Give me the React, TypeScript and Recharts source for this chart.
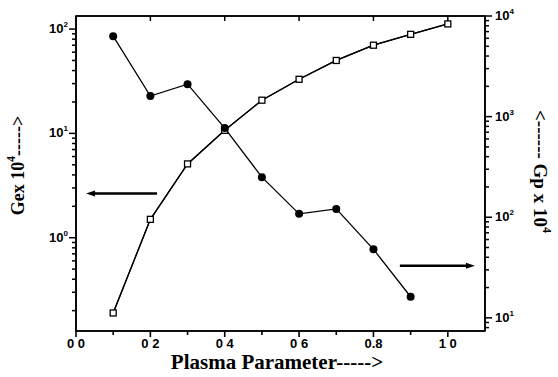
import React from "react";
import {
  ComposedChart, Line, XAxis, YAxis, ReferenceLine, ReferenceArea
} from "recharts";

// plasma parameter
const PARAM = [0.1, 0.2, 0.3, 0.4, 0.5, 0.6, 0.7, 0.8, 0.9, 1.0];
// Gex x 10^4 (open squares, left axis)
const GEX = [0.19, 1.5, 5.1, 10.7, 20.8, 33, 50, 70, 89, 112];
// Gp x 10^4 (filled circles, right axis)
const GP: (number | null)[] = [6300, 1600, 2100, 770, 250, 108, 121, 48, 16.2, null];

const X_TICKS = [0, 0.1, 0.2, 0.3, 0.4, 0.5, 0.6, 0.7, 0.8, 0.9, 1.0];
const X_LABELS: Record<string, string> = {
  "0": "0 0", "0.2": "0 2", "0.4": "0 4", "0.6": "0 6", "0.8": "0.8", "1": "1 0",
};
const LEFT_TICKS = [0.2, 0.3, 0.4, 0.5, 0.6, 0.7, 0.8, 0.9, 1, 2, 3, 4, 5, 6, 7, 8, 9, 10, 20, 30, 40, 50, 60, 70, 80, 90, 100];
const RIGHT_TICKS = [8, 9, 10, 20, 30, 40, 50, 60, 70, 80, 90, 100, 200, 300, 400, 500, 600, 700, 800, 900, 1000, 2000, 3000, 4000, 5000, 6000, 7000, 8000, 9000, 10000];
const X_DOMAIN = [0, 1.1];
const LEFT_DOMAIN = [0.1276, 133.4];
const RIGHT_DOMAIN = [7.4, 10000];

// arrows pointing to the axis each curve belongs to
const LEFT_ARROW = [{ x: 0.218, y: 2.65 }, { x: 0.027, y: 2.65 }];
const RIGHT_ARROW = [{ x: 0.871, y: 32.9 }, { x: 1.073, y: 32.9 }];

const data = PARAM.map((x, i) => ({ x, gex: GEX[i], gp: GP[i] }));

const isDecade = (v: number) => Math.abs(Math.log10(v) - Math.round(Math.log10(v))) < 1e-9;
const TICK_FONT = "'Liberation Sans', Arial, sans-serif";
const SERIF = "'Liberation Serif', 'Times New Roman', serif";

const BottomTick = ({ x, y, payload }: any) => {
  const key = String(Math.round(payload.value * 10) / 10);
  const label = X_LABELS[key];
  const major = label !== undefined;
  return (
    <g>
      <line x1={x} y1={y} x2={x} y2={y + (major ? 6 : 4)} stroke="#000" strokeWidth={1.6} />
      {major && (
        <text x={x} y={y + 17} textAnchor="middle" fontFamily={TICK_FONT} fontWeight="bold" fontSize={13} fill="#000">
          {label}
        </text>
      )}
    </g>
  );
};

const TopTick = ({ x, y, payload }: any) => {
  const key = String(Math.round(payload.value * 10) / 10);
  const major = X_LABELS[key] !== undefined;
  return <line x1={x} y1={y} x2={x} y2={y + (major ? 5 : 0)} stroke="#000" strokeWidth={1.5} />;
};

const LeftTick = ({ x, y, payload }: any) => {
  const v = payload.value;
  const major = isDecade(v);
  return (
    <g>
      <line x1={x} y1={y} x2={x - (major ? 7 : 4)} y2={y} stroke="#000" strokeWidth={1.5} />
      {major && (
        <text x={x - 8} y={y + 4} textAnchor="end" fontFamily={TICK_FONT} fontWeight="bold" fontSize={13} fill="#000">
          10<tspan dy={-6} fontSize={8}>{Math.round(Math.log10(v))}</tspan>
        </text>
      )}
    </g>
  );
};

const RightTick = ({ x, y, payload }: any) => {
  const v = payload.value;
  const major = isDecade(v);
  return (
    <g>
      <line x1={x} y1={y} x2={x + (major ? 7 : 4)} y2={y} stroke="#000" strokeWidth={1.5} />
      {major && (
        <text x={x + 10} y={y + 4} textAnchor="start" fontFamily={TICK_FONT} fontWeight="bold" fontSize={13} fill="#000">
          10<tspan dy={-6} fontSize={8}>{Math.round(Math.log10(v))}</tspan>
        </text>
      )}
    </g>
  );
};

const Square = ({ cx, cy }: any) =>
  cx == null || cy == null ? <g /> : (
    <rect x={cx - 3} y={cy - 3} width={6} height={6} fill="#fff" stroke="#000" strokeWidth={1.3} />
  );

const Dot = ({ cx, cy }: any) =>
  cx == null || cy == null ? <g /> : <circle cx={cx} cy={cy} r={4} fill="#000" />;

const Arrow = ({ x1, y1, x2, y2 }: any) => {
  const dir = x2 > x1 ? 1 : -1;
  return (
    <g>
      <line x1={x1} y1={y1} x2={x2 - dir * 6} y2={y2} stroke="#000" strokeWidth={2.5} />
      <polygon points={`${x2},${y2} ${x2 - dir * 9},${y2 - 3} ${x2 - dir * 9},${y2 + 3}`} fill="#000" />
    </g>
  );
};

const LeftLabel = ({ viewBox }: any) => {
  const cx = 18;
  const cy = viewBox.y + viewBox.height / 2 - 8;
  return (
    <text x={cx} y={cy} transform={`rotate(-90 ${cx} ${cy})`} textAnchor="middle" dominantBaseline="central"
      fontFamily={SERIF} fontWeight="bold" fontSize={18} fill="#000">
      Gex 10<tspan dy={-7} fontSize={12}>4</tspan><tspan dy={7}>-----&gt;</tspan>
    </text>
  );
};

const RightLabel = ({ viewBox }: any) => {
  const cx = 540;
  const cy = viewBox.y + viewBox.height / 2 - 2;
  return (
    <text x={cx} y={cy} transform={`rotate(90 ${cx} ${cy})`} textAnchor="middle" dominantBaseline="central"
      fontFamily={SERIF} fontWeight="bold" fontSize={19} fill="#000">
      &lt;------ Gp x 10<tspan dy={-7} fontSize={12}>4</tspan>
    </text>
  );
};

const BottomLabel = ({ viewBox }: any) => {
  const cx = 277;
  const cy = viewBox.y + 31;
  return (
    <text x={cx} y={cy} textAnchor="middle" dominantBaseline="central"
      fontFamily={SERIF} fontWeight="bold" fontSize={21} fill="#000">
      Plasma Parameter-----&gt;
    </text>
  );
};

export default function App() {
  return (
    <div style={{ position: "absolute", left: 0, top: 0, width: 558, height: 377, background: "#fff" }}>
      <ComposedChart width={558} height={377} data={data} margin={{ top: -4, right: 0, bottom: 0, left: 0 }}>
        <XAxis
          xAxisId="bottom" dataKey="x" type="number" domain={X_DOMAIN} ticks={X_TICKS} interval={0}
          height={46} tickSize={0} tickMargin={0} tick={<BottomTick />}
          axisLine={{ stroke: "#000", strokeWidth: 1.6 }} allowDataOverflow
          label={<BottomLabel />}
        />
        <XAxis
          xAxisId="top" orientation="top" dataKey="x" type="number" domain={X_DOMAIN} ticks={X_TICKS} interval={0}
          height={20} tickSize={0} tickMargin={0} tick={<TopTick />}
          axisLine={{ stroke: "#000", strokeWidth: 1.6 }} allowDataOverflow
        />
        <YAxis
          yAxisId="left" orientation="left" scale="log" type="number" domain={LEFT_DOMAIN} allowDataOverflow
          ticks={LEFT_TICKS} interval={0} width={76} tickSize={0} tickMargin={0} tick={<LeftTick />}
          axisLine={{ stroke: "#000", strokeWidth: 1.6 }} label={<LeftLabel />}
        />
        <YAxis
          yAxisId="right" orientation="right" scale="log" type="number" domain={RIGHT_DOMAIN} allowDataOverflow
          ticks={RIGHT_TICKS} interval={0} width={73} tickSize={0} tickMargin={0} tick={<RightTick />}
          axisLine={{ stroke: "#000", strokeWidth: 1.6 }} label={<RightLabel />}
        />
        <ReferenceArea
          xAxisId="bottom" yAxisId="left" x1={X_DOMAIN[0]} x2={X_DOMAIN[1]} y1={LEFT_DOMAIN[0]} y2={LEFT_DOMAIN[1]}
          fill="none" fillOpacity={0} stroke="#000" strokeWidth={1.6} strokeOpacity={1} ifOverflow="visible"
        />
        <ReferenceLine xAxisId="bottom" yAxisId="left" segment={LEFT_ARROW} shape={<Arrow />} ifOverflow="visible" />
        <ReferenceLine xAxisId="bottom" yAxisId="right" segment={RIGHT_ARROW} shape={<Arrow />} ifOverflow="visible" />
        <Line
          xAxisId="top" yAxisId="left" dataKey="gex" stroke="#000" strokeWidth={1.3}
          dot={false} activeDot={false} isAnimationActive={false} type="linear"
        />
        <Line
          xAxisId="bottom" yAxisId="left" dataKey="gex" stroke="#000" strokeWidth={1.3}
          dot={<Square />} activeDot={false} isAnimationActive={false} type="linear"
        />
        <Line
          xAxisId="bottom" yAxisId="right" dataKey="gp" stroke="#000" strokeWidth={1.3}
          dot={<Dot />} activeDot={false} isAnimationActive={false} type="linear"
        />
      </ComposedChart>
    </div>
  );
}
